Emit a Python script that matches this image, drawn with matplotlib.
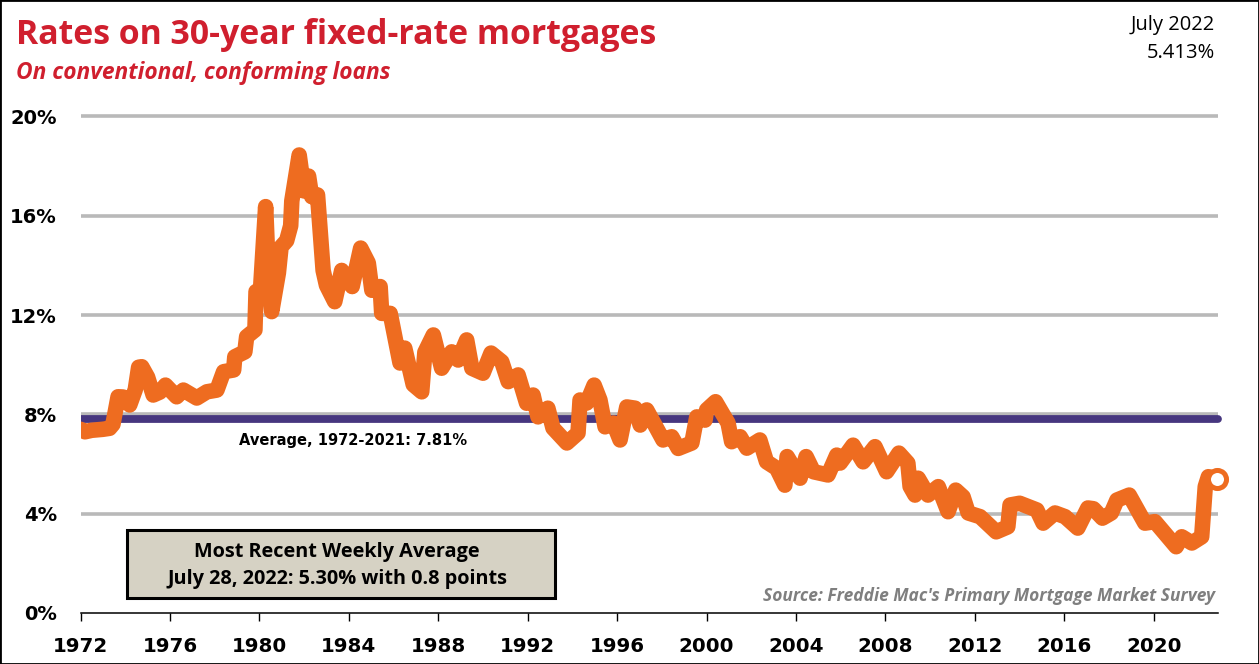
import matplotlib
matplotlib.use('Agg')
import matplotlib.pyplot as plt
from matplotlib.patches import Rectangle

#%% data
dates = [1972.0, 1972.2, 1972.5, 1973.0, 1973.3, 1973.45, 1973.68, 1973.9, 1974.2, 1974.45, 1974.6, 1974.74, 1975.0, 1975.25,
         1975.55, 1975.8, 1976.3, 1976.6, 1977.2, 1977.65, 1978.1, 1978.4, 1978.85, 1978.9, 1979.35, 1979.43, 1979.8,
         1979.85, 1980.03, 1980.28, 1980.4, 1980.55, 1980.85, 1980.97, 1981.22, 1981.4, 1981.45, 1981.78, 1982.0,
         1982.2, 1982.34, 1982.6, 1982.85, 1983.0, 1983.37, 1983.68, 1984.15, 1984.53, 1984.87, 1985.03, 1985.4,
         1985.47, 1985.85, 1986.29, 1986.5, 1986.88, 1987.26, 1987.4, 1987.78, 1988.15, 1988.6, 1988.89, 1989.27,
         1989.5, 1990.0, 1990.36, 1990.84, 1991.13, 1991.57, 1991.95, 1992.24, 1992.46, 1992.9, 1993.13, 1993.75,
         1994.25, 1994.34, 1994.64, 1994.97, 1995.23, 1995.46, 1995.83, 1996.13, 1996.43, 1996.8, 1997.03, 1997.32,
         1998.05, 1998.44, 1998.73, 1999.34, 1999.56, 1999.93, 2000.0, 2000.4, 2000.96, 2001.12, 2001.5, 2001.8,
         2002.38, 2002.68, 2003.13, 2003.5, 2003.6, 2004.18, 2004.45, 2004.78, 2005.43, 2005.82, 2005.97, 2006.55,
         2007.0, 2007.53, 2008.05, 2008.6, 2009.0, 2009.1, 2009.32, 2009.46, 2009.9, 2010.36, 2010.8, 2011.14,
         2011.47, 2011.7, 2012.23, 2012.95, 2013.47, 2013.57, 2014.0, 2014.77, 2015.05, 2015.58, 2016.03, 2016.6,
         2017.05, 2017.3, 2017.7, 2018.1, 2018.35, 2018.9, 2019.6, 2020.05, 2021.0, 2021.25, 2021.7, 2022.14,
         2022.3, 2022.44, 2022.81]
rates = [7.4, 7.3, 7.36, 7.4, 7.44, 7.6, 8.71, 8.7, 8.38, 9.0, 9.9, 9.92, 9.5, 8.78,
         8.9, 9.18, 8.71, 8.98, 8.66, 8.91, 8.98, 9.72, 9.79, 10.32, 10.52, 11.13, 11.4,
         12.95, 12.74, 16.37, 13.7, 12.14, 13.7, 14.75, 15.0, 15.6, 16.6, 18.45, 17.0,
         17.6, 16.77, 16.84, 13.8, 13.2, 12.54, 13.8, 13.15, 14.7, 14.1, 13.0, 13.15,
         12.07, 12.07, 10.07, 10.67, 9.2, 8.91, 10.5, 11.2, 9.86, 10.52, 10.19, 11.0,
         9.86, 9.66, 10.47, 10.12, 9.32, 9.59, 8.45, 8.78, 7.9, 8.25, 7.45, 6.85,
         7.25, 8.58, 8.46, 9.18, 8.58, 7.5, 7.65, 6.97, 8.3, 8.25, 7.57, 8.18,
         6.97, 7.1, 6.63, 6.85, 7.9, 7.77, 8.18, 8.51, 7.65, 6.9, 7.1, 6.64,
         6.97, 6.09, 5.83, 5.15, 6.3, 5.43, 6.3, 5.69, 5.56, 6.36, 6.04, 6.76,
         6.09, 6.7, 5.69, 6.44, 6.04, 5.1, 4.75, 5.43, 4.75, 5.09, 4.08, 4.95,
         4.68, 4.03, 3.88, 3.27, 3.47, 4.35, 4.42, 4.15, 3.62, 4.03, 3.88, 3.42,
         4.23, 4.2, 3.82, 4.03, 4.55, 4.75, 3.62, 3.68, 2.67, 3.07, 2.82, 3.07,
         5.09, 5.49, 5.41]
average = 7.81
y_ticks = [0, 4, 8, 12, 16, 20]
x_ticks = list(range(1972, 2021, 4))

W, H = 1259, 664
def px(x, y):  # image pixels to figure fractions
    return x / W, 1 - y / H

fig = plt.figure(figsize=(W / 100, H / 100), dpi=100)
left, bottom = px(80.5, 613)
right, top = px(1218, 116.5)
ax = fig.add_axes([left, bottom, right - left, top - bottom])

ax.set_xlim(1972, 2022.87)
ax.set_ylim(0, 20)
for s in ['top', 'left', 'right']:
    ax.spines[s].set_visible(False)
ax.spines['bottom'].set_linewidth(1.1)

for v in y_ticks[1:]:
    ax.axhline(v, color='#b9b9b9', lw=2.6, zorder=1, clip_on=False, solid_capstyle='butt')
avg_line, = ax.plot([1972, 2022.87], [average, average], color='#46367f', lw=5.6, zorder=2, solid_capstyle='round')
# keep the round cap on the right, cut it flat at the axis on the left
avg_line.set_clip_path(Rectangle((0, -0.1), 1.02, 1.2, transform=ax.transAxes))
ax.plot(dates, rates, color='#ee6c20', lw=11.2, zorder=3, solid_joinstyle='round', solid_capstyle='round')
ax.plot(dates[-1], rates[-1], 'o', ms=13, mfc='white', mec='#ee6c20', mew=3.6, zorder=4, clip_on=False)

ax.set_xticks(x_ticks)
ax.set_xticklabels([str(x) for x in x_ticks], fontsize=14.3, fontweight='bold')
ax.tick_params(axis='x', length=6, width=1, pad=11)
ax.set_yticks(y_ticks)
ax.set_yticklabels(['%d%%' % v for v in y_ticks], fontsize=14, fontweight='bold')
ax.tick_params(axis='y', length=0, pad=17)

# title block
fig.text(*px(16, 35), 'Rates on 30-year fixed-rate mortgages', color='#d01f2e', fontsize=24.4,
         fontweight='bold', family='Open Sans', va='center')
fig.text(*px(16, 73), 'On conventional, conforming loans', color='#d01f2e', fontsize=16.4,
         fontweight='bold', style='italic', family='Open Sans', va='center')
fig.text(*px(1215, 25), 'July 2022', fontsize=14.5, family='Open Sans', ha='right', va='center')
fig.text(*px(1215, 53), '5.413%', fontsize=14.5, family='Open Sans', ha='right', va='center')

ax.text(1979.1, 6.95, 'Average, 1972-2021: 7.81%', fontsize=10.5, fontweight='bold', ha='left', va='center', zorder=5)

# callout box
bx0, by0 = px(127, 598)
bx1, by1 = px(555, 530)
fig.add_artist(Rectangle((bx0, by0), bx1 - bx0, by1 - by0, transform=fig.transFigure,
                         fc='#d6d2c4', ec='black', lw=2.2, zorder=5))
fig.text(*px(337, 552), 'Most Recent Weekly Average', fontsize=14.3, fontweight='bold', family='Open Sans',
         ha='center', va='center', zorder=6)
fig.text(*px(337, 579), 'July 28, 2022: 5.30% with 0.8 points', fontsize=14.3, fontweight='bold', family='Open Sans',
         ha='center', va='center', zorder=6)

fig.text(*px(1215, 596), "Source: Freddie Mac's Primary Mortgage Market Survey", color='#7f7f7f', fontsize=12.5,
         fontweight='bold', style='italic', family='Open Sans', ha='right', va='center')

# image border
fig.add_artist(Rectangle((0, 0), 1, 1, transform=fig.transFigure, fc='none', ec='black', lw=2))

fig.savefig('out.png', dpi=100)
